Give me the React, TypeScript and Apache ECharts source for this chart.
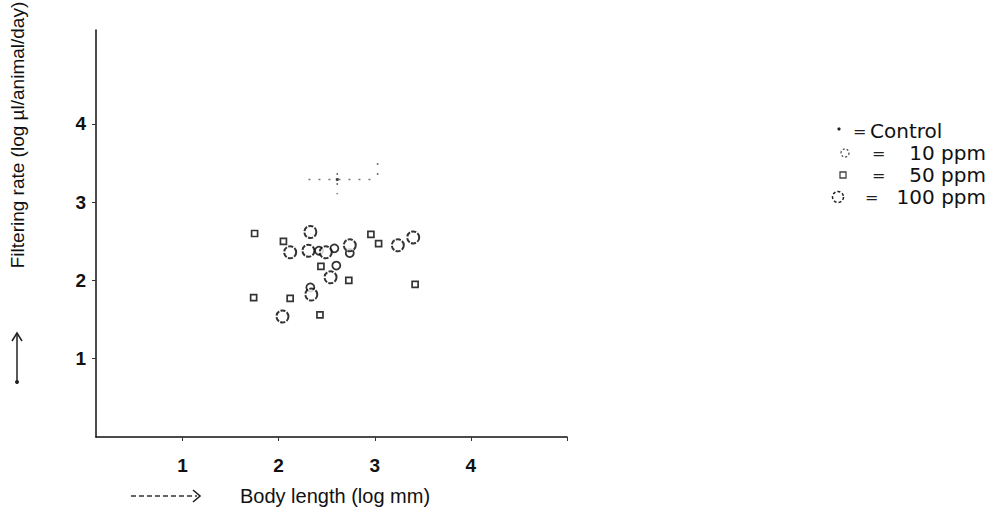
import React, { useEffect, useRef } from "react";
import * as echarts from "echarts";

// Log body length (mm) vs. log filtering rate (µl/animal/day)
const ppm10: number[][] = [
  [2.6, 2.19],
  [2.74, 2.35],
  [2.33, 1.91],
  [2.42, 2.38],
  [2.58, 2.41],
];

const ppm50: number[][] = [
  [1.75, 2.6],
  [2.05, 2.5],
  [1.74, 1.78],
  [2.12, 1.77],
  [2.43, 1.56],
  [2.96, 2.59],
  [3.04, 2.47],
  [3.42, 1.95],
  [2.44, 2.18],
  [2.73, 2.0],
];

const ppm100: number[][] = [
  [2.12, 2.36],
  [2.04, 1.54],
  [2.33, 2.62],
  [2.54, 2.04],
  [3.24, 2.45],
  [3.4, 2.55],
  [2.31, 2.38],
  [2.74, 2.45],
  [2.34, 1.82],
  [2.49, 2.36],
];

// Control: mean with ranges [x, y, xLow, xHigh, yLow, yHigh]
const control: number[][] = [[2.61, 3.29, 2.31, 3.03, 3.1, 3.5]];

const xTicks = [1, 2, 3, 4, 5];
const xLabels = [1, 2, 3, 4];
const yTicks = [1, 2, 3, 4];

const legendLabels = ["Control", "10 ppm", "50 ppm", "100 ppm"];

const FONT = "'Liberation Sans', Arial, sans-serif";
const LEGEND_FONT = "'DejaVu Sans', sans-serif";

export default function App() {
  const ref = useRef<HTMLDivElement>(null);

  useEffect(() => {
    if (!ref.current) return;
    const chart = echarts.init(ref.current, null, { renderer: "svg" });

    const rows = [
      { y: 131, eqX: 853, labelX: 870, align: "left" },
      { y: 153, eqX: 872, labelX: 986, align: "right" },
      { y: 175, eqX: 872, labelX: 986, align: "right" },
      { y: 197, eqX: 865, labelX: 986, align: "right" },
    ];

    const legendGraphics: any[] = [];
    rows.forEach((r, i) => {
      legendGraphics.push({
        type: "text",
        x: r.eqX,
        y: r.y,
        style: { text: "=", font: `16px ${LEGEND_FONT}`, fill: "#222", verticalAlign: "middle" },
      });
      legendGraphics.push({
        type: "text",
        x: r.labelX,
        y: r.y,
        style: {
          text: legendLabels[i],
          font: `20px ${LEGEND_FONT}`,
          fill: "#111",
          align: r.align,
          verticalAlign: "middle",
        },
      });
    });
    legendGraphics.push(
      { type: "circle", shape: { cx: 839, cy: 129, r: 1.6 }, style: { fill: "#222" } },
      { type: "circle", shape: { cx: 845, cy: 153, r: 4 }, style: { fill: "none", stroke: "#555", lineWidth: 1.3, lineDash: [2, 2] } },
      { type: "rect", shape: { x: 840, y: 172, width: 6, height: 6 }, style: { fill: "none", stroke: "#444", lineWidth: 1.3 } },
      { type: "circle", shape: { cx: 838, cy: 197, r: 5.5 }, style: { fill: "none", stroke: "#222", lineWidth: 1.5, lineDash: [3, 2] } }
    );

    chart.setOption({
      animation: false,
      grid: { left: 96, top: 30, right: 432, bottom: 85 },
      xAxis: {
        type: "value",
        min: 0.1,
        max: 5,
        splitLine: { show: false },
        axisLine: { lineStyle: { color: "#111", width: 1.5 } },
        axisTick: {
          show: true,
          inside: false,
          length: 4,
          customValues: xTicks,
          lineStyle: { color: "#333" },
        },
        axisLabel: {
          customValues: xLabels,
          margin: 19,
          color: "#111",
          fontSize: 19,
          fontWeight: "bold",
          fontFamily: FONT,
        },
      },
      yAxis: {
        type: "value",
        min: 0,
        max: 5.2,
        splitLine: { show: false },
        axisLine: { lineStyle: { color: "#111", width: 1.5 } },
        axisTick: {
          show: true,
          length: 4,
          customValues: yTicks,
          lineStyle: { color: "#333" },
        },
        axisLabel: {
          customValues: yTicks,
          margin: 10,
          color: "#111",
          fontSize: 19,
          fontWeight: "bold",
          fontFamily: FONT,
        },
      },
      series: [
        {
          name: "Control",
          type: "custom",
          data: control,
          renderItem: (params: any, api: any) => {
            const x = api.value(0);
            const y = api.value(1);
            const c = api.coord([x, y]);
            const l = api.coord([api.value(2), y]);
            const r = api.coord([api.value(3), y]);
            const b = api.coord([x, api.value(4)]);
            const t = api.coord([x, api.value(5)]);
            const dotted = { stroke: "#777", lineWidth: 1.6, lineDash: [2, 8] };
            return {
              type: "group",
              children: [
                { type: "line", shape: { x1: l[0], y1: l[1], x2: r[0], y2: r[1] }, style: dotted },
                { type: "line", shape: { x1: c[0], y1: t[1] + 10, x2: c[0], y2: b[1] }, style: dotted },
                { type: "line", shape: { x1: r[0], y1: t[1], x2: r[0], y2: r[1] }, style: dotted },
                { type: "circle", shape: { cx: c[0], cy: c[1], r: 1.6 }, style: { fill: "#444" } },
              ],
            };
          },
        },
        {
          name: "10 ppm",
          type: "scatter",
          data: ppm10,
          symbol: "circle",
          symbolSize: 8,
          itemStyle: { color: "#fff", borderColor: "#000", borderWidth: 1.8 },
        },
        {
          name: "50 ppm",
          type: "scatter",
          data: ppm50,
          symbol: "rect",
          symbolSize: 6,
          itemStyle: { color: "#fff", borderColor: "#000", borderWidth: 1.7 },
        },
        {
          name: "100 ppm",
          type: "scatter",
          data: ppm100,
          symbol: "circle",
          symbolSize: 12,
          itemStyle: { color: "#fff", borderColor: "#000", borderWidth: 2, borderType: [5, 1.5] },
        },
      ],
      graphic: [
        // y-axis title and arrow
        {
          type: "text",
          x: 17,
          y: 135,
          rotation: Math.PI / 2,
          style: {
            text: "Filtering rate (log µl/animal/day)",
            font: `19px ${FONT}`,
            fill: "#111",
            align: "center",
            verticalAlign: "middle",
          },
        },
        { type: "line", shape: { x1: 17, y1: 333, x2: 17, y2: 382 }, style: { stroke: "#222", lineWidth: 1.5 } },
        { type: "polyline", shape: { points: [[12, 341], [17, 333], [22, 341]] }, style: { stroke: "#222", lineWidth: 1.5, fill: "none" } },
        { type: "circle", shape: { cx: 17, cy: 382, r: 2 }, style: { fill: "#222" } },
        // x-axis title and arrow
        {
          type: "text",
          x: 335,
          y: 496,
          style: {
            text: "Body length (log mm)",
            font: `20px ${FONT}`,
            fill: "#111",
            align: "center",
            verticalAlign: "middle",
          },
        },
        { type: "line", shape: { x1: 131, y1: 496, x2: 197, y2: 496 }, style: { stroke: "#333", lineWidth: 1.3, lineDash: [5, 3] } },
        { type: "polyline", shape: { points: [[193, 490], [200, 496], [193, 502]] }, style: { stroke: "#222", lineWidth: 1.6, fill: "none" } },
        ...legendGraphics,
      ],
    });

    return () => chart.dispose();
  }, []);

  return (
    <div
      ref={ref}
      style={{ position: "fixed", left: 0, top: 0, width: 999, height: 522, background: "#fff" }}
    />
  );
}
